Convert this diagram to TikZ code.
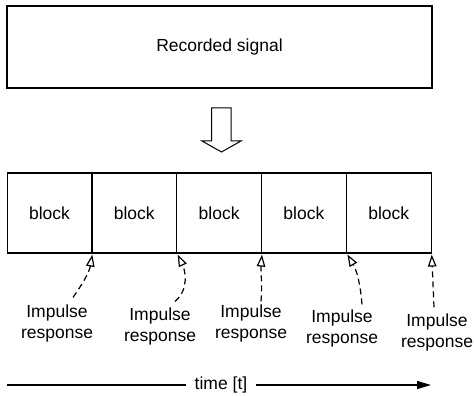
\documentclass[tikz,border=0pt]{standalone}
\usepackage{fontspec}
\setmainfont{Liberation Sans}
\usetikzlibrary{arrows.meta,calc}

\begin{document}
\begin{tikzpicture}[x=1pt, y=1pt, line width=1.2pt,
    every node/.style={font=\fontsize{17.5}{21}\selectfont}]
  \tikzstyle{box}=[draw, inner sep=0pt]
  \tikzstyle{edge}=[dash pattern=on 6pt off 4pt, shorten >=1pt, -{Triangle[open, length=12pt, width=8.5pt]}]
  \useasboundingbox (0,0) rectangle (474,396);
  \node[box, minimum width=425pt, minimum height=82pt] (rec) at (219.5,349) {Recorded signal};
  % hollow arrow between the signal and the blocks
  \draw[line width=1pt] (211.5,288) -- (211.5,255) -- (202,255) -- (221.5,244)
    -- (241,255) -- (231,255) -- (231,288) -- cycle;
  \foreach \i in {0,...,4}
    \node[box, minimum width=84.8pt, minimum height=80pt] (blk\i) at (49.5+84.8*\i, 183) {block};
  \node[align=center] (imp0) at (57,73) {Impulse\\response};
  \node[align=center] (imp1) at (160,70) {Impulse\\response};
  \node[align=center] (imp2) at (251,73) {Impulse\\response};
  \node[align=center] (imp3) at (342,68) {Impulse\\response};
  \node[align=center] (imp4) at (437,64) {Impulse\\response};
          %impulse
  \draw[edge] ($(imp0.north)+(16,3)$) to[out=55, in=-100] (blk0.south east);
  \draw[edge] ($(imp1.north)+(15,2)$) to[out=40, in=-65] (blk1.south east);
  \draw[edge] ($(imp2.north)+(10,-1)$) to[out=85, in=-95] (blk2.south east);
  \draw[edge] ($(imp3.north)+(20,1)$) to[out=95, in=-60] (blk3.south east);
  \draw[edge] ($(imp4.north)+(-3,2)$) -- (blk4.south east);
  % time axis
  \node[inner xsep=8pt] (time) at (221,11) {time [t]};
  \coordinate (t0) at (7,11);
  \coordinate (t1) at (431,11);
  \draw (t0) -- (time.west);
  \draw[-{Triangle[length=14pt, width=8pt]}] (time.east) -- (t1);
\end{tikzpicture}
\end{document}
